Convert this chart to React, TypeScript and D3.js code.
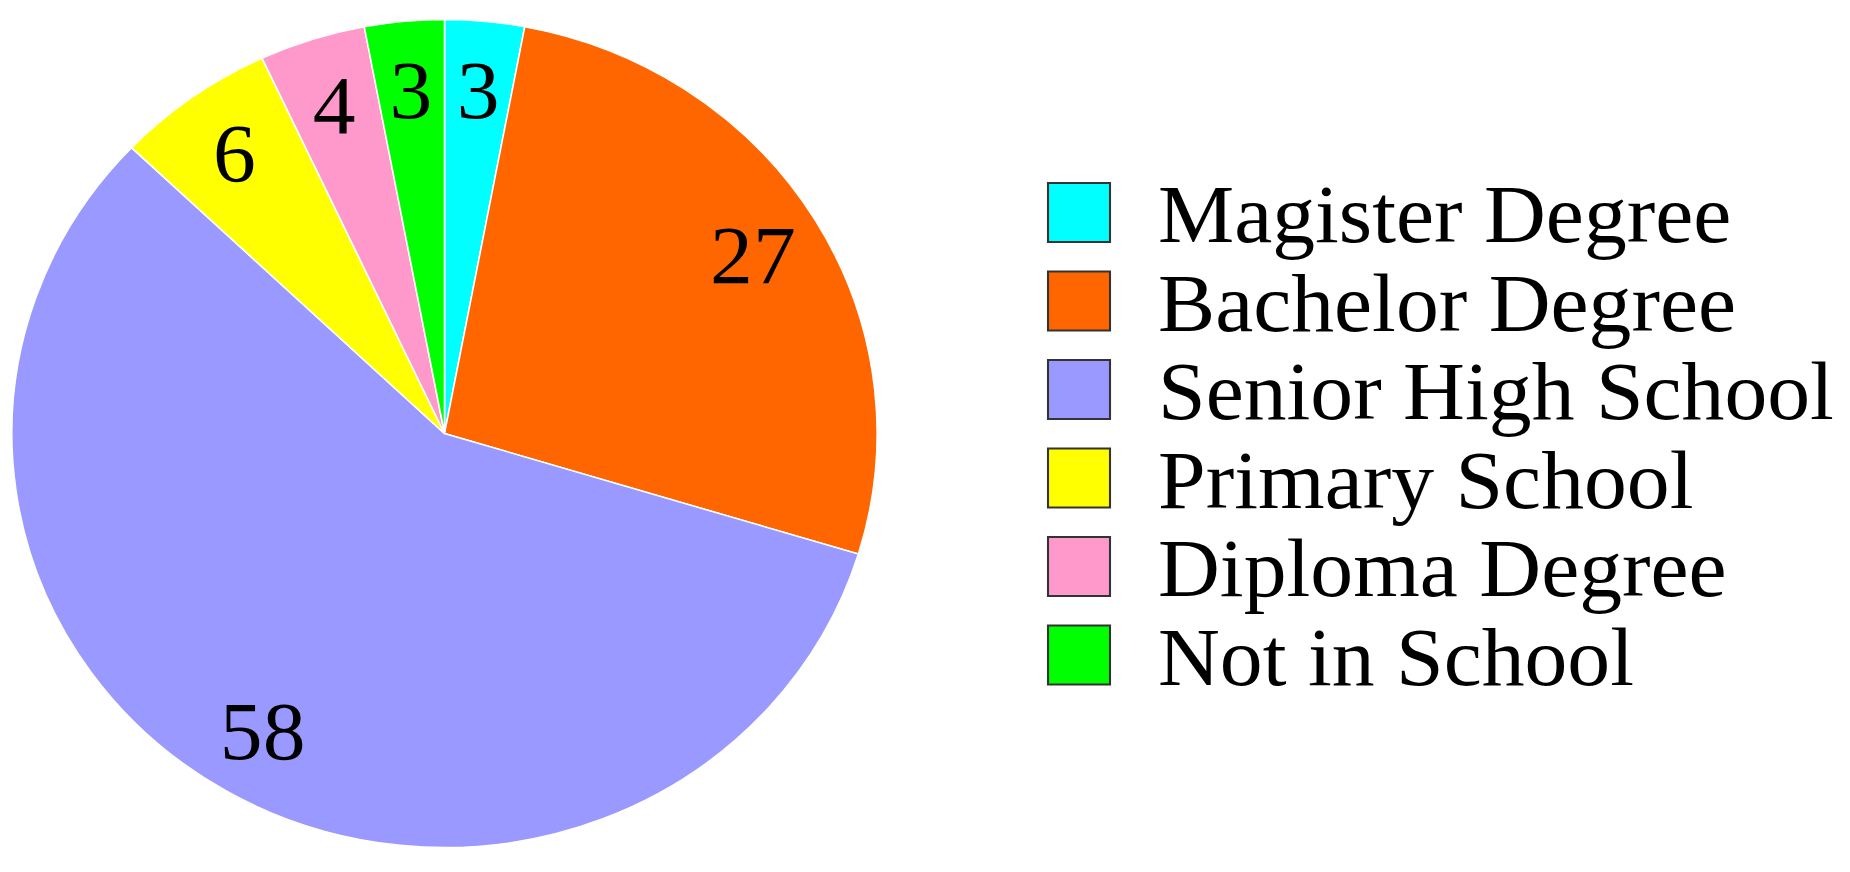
import React, { useEffect, useRef } from 'react';
import * as d3 from 'd3';

const categories = [
  'Magister Degree',
  'Bachelor Degree',
  'Senior High School',
  'Primary School',
  'Diploma Degree',
  'Not in School',
];
const values = [3, 27, 58, 6, 4, 3];
const colors = ['#00ffff', '#ff6600', '#9999ff', '#ffff00', '#ff99cc', '#00ff00'];

const width = 1850;
const height = 872;
// the original picture is slightly stretched sideways
const sx = 1.045;
const cx = 444.5 / sx;
const cy = 433.5;
const radius = 414;
const labelRadius = 345;

const App = () => {
  const ref = useRef<SVGSVGElement>(null);

  useEffect(() => {
    document.body.style.margin = '0';
    const svg = d3.select(ref.current);
    svg.selectAll('*').remove();

    const root = svg.append('g').attr('transform', `scale(${sx},1)`);

    const arcs = d3
      .pie<number>()
      .sort(null)
      .value(d => d)(values);

    const arc = d3.arc<d3.PieArcDatum<number>>().innerRadius(0).outerRadius(radius);
    const labelArc = d3
      .arc<d3.PieArcDatum<number>>()
      .innerRadius(labelRadius)
      .outerRadius(labelRadius);

    const pie = root.append('g').attr('transform', `translate(${cx},${cy})`);

    pie
      .selectAll('path')
      .data(arcs)
      .join('path')
      .attr('d', arc)
      .attr('fill', (d, i) => colors[i])
      .attr('stroke', '#fff')
      .attr('stroke-width', 1.5);

    pie
      .selectAll('text')
      .data(arcs)
      .join('text')
      .attr('x', d => labelArc.centroid(d)[0])
      .attr('y', d => labelArc.centroid(d)[1])
      .attr('dy', '0.34em')
      .attr('text-anchor', 'middle')
      .attr('font-family', '"Liberation Serif", "Times New Roman", serif')
      .attr('font-size', 82)
      .attr('fill', '#000')
      .text(d => d.data);

    const y = d3
      .scalePoint<string>()
      .domain(categories)
      .range([183, 183 + 88.5 * (categories.length - 1)]);

    const legend = root.append('g');
    const rows = legend
      .selectAll('g')
      .data(categories)
      .join('g')
      .attr('transform', d => `translate(0,${y(d)})`);

    rows
      .append('rect')
      .attr('x', 1048 / sx)
      .attr('y', 0)
      .attr('width', 62 / sx)
      .attr('height', 59)
      .attr('fill', (d, i) => colors[i])
      .attr('stroke', '#333')
      .attr('stroke-width', 2);

    rows
      .append('text')
      .attr('x', 1158 / sx)
      .attr('y', 59)
      .attr('font-family', '"Liberation Serif", "Times New Roman", serif')
      .attr('font-size', 82)
      .attr('fill', '#000')
      .text(d => d);
  }, []);

  return (
    <svg
      ref={ref}
      width={width}
      height={height}
      style={{ display: 'block', background: '#fff' }}
    />
  );
};

export default App;
